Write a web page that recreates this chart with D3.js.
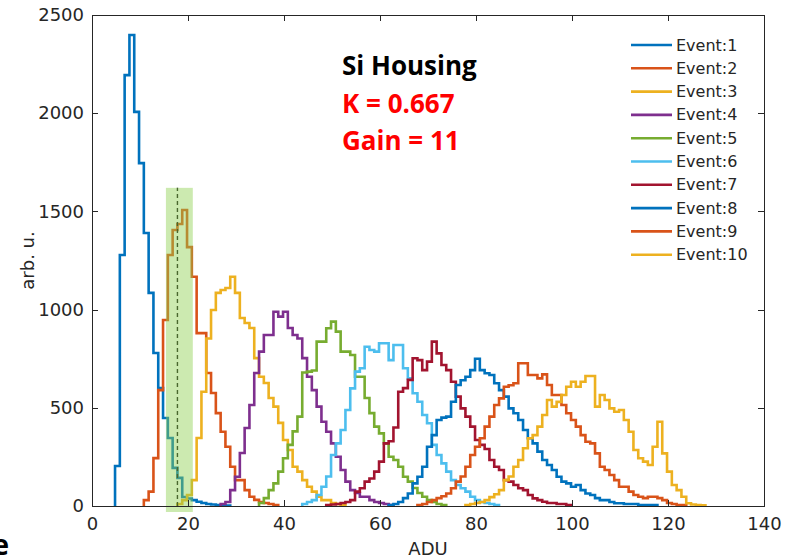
<!DOCTYPE html>
<html>
<head>
<meta charset="utf-8">
<script src="https://cdn.jsdelivr.net/npm/d3@7"></script>
<style>
  html, body { margin: 0; padding: 0; background: #fff; }
  svg { display: block; font-family: "DejaVu Sans", sans-serif; }
</style>
</head>
<body>
<div id="chart"></div>
<script>
// series names + colours (MATLAB default order, repeating after 7)
const events = ['Event:1', 'Event:2', 'Event:3', 'Event:4', 'Event:5',
                'Event:6', 'Event:7', 'Event:8', 'Event:9', 'Event:10'];
const colors = ['#0072BD', '#D95319', '#EDB120', '#7E2F8E', '#77AC30',
                '#4DBEEE', '#A2142F', '#0072BD', '#D95319', '#EDB120'];

// left edge (ADU) of the first bin of each histogram, bin width = 1 ADU
const binStart = [4.8, 10.8, 17.8, 26.8, 34.8, 43.8, 48.8, 61.8, 67.8, 77.8];

// counts per bin
const ev1 = [204, 1278, 2194, 2398, 2007, 1746, 1390, 1085, 779, 600, 448, 346, 194, 143, 46, 38, 30, 22, 15, 10, 8, 5, 3, 2];
const ev2 = [30, 73, 244, 590, 947, 1278, 1405, 1436, 1507, 1318, 1167, 880, 880, 677, 575, 473, 378, 302, 200, 132, 132, 81, 47, 31, 20, 15, 10, 5];
const ev3 = [10, 30, 56, 132, 346, 582, 853, 998, 1085, 1100, 1110, 1167, 1085, 957, 932, 906, 753, 658, 626, 550, 506, 423, 336, 285, 200, 175, 132, 98, 73, 47, 30, 30, 15, 10, 5];
const ev4 = [10, 20, 81, 149, 270, 397, 514, 677, 786, 871, 871, 989, 964, 989, 906, 871, 853, 753, 658, 590, 506, 429, 378, 319, 251, 183, 124, 81, 66, 47, 47, 30, 20, 15, 10, 5];
const ev5 = [15, 40, 81, 115, 175, 243, 311, 380, 455, 680, 684, 690, 837, 837, 905, 939, 888, 786, 786, 769, 658, 658, 550, 473, 404, 370, 319, 251, 234, 200, 149, 124, 92, 66, 47, 30, 20, 10, 5];
const ev6 = [10, 20, 30, 56, 98, 150, 260, 319, 387, 489, 599, 684, 701, 811, 794, 786, 829, 829, 743, 820, 820, 701, 650, 574, 531, 463, 421, 311, 260, 217, 175, 132, 107, 90, 73, 47, 30, 20, 15, 10, 5];
const ev7 = [5, 8, 10, 15, 20, 30, 73, 90, 124, 140, 175, 226, 319, 330, 400, 582, 600, 642, 752, 743, 692, 735, 837, 777, 718, 692, 633, 557, 497, 455, 404, 336, 311, 290, 234, 200, 183, 132, 124, 107, 90, 81, 56, 39, 30, 22, 15, 15, 10, 10, 5];
const ev8 = [5, 10, 20, 40, 64, 115, 149, 200, 302, 361, 438, 450, 455, 531, 616, 640, 658, 692, 750, 692, 676, 667, 625, 590, 557, 497, 472, 438, 387, 345, 319, 277, 234, 209, 183, 149, 124, 115, 98, 107, 81, 64, 56, 40, 30, 30, 20, 14, 14, 10, 10, 10, 5, 5, 5, 5];
const ev9 = [5, 10, 20, 30, 40, 50, 64, 90, 124, 150, 200, 260, 302, 345, 404, 455, 514, 548, 607, 615, 625, 727, 727, 667, 667, 650, 670, 616, 565, 565, 514, 472, 438, 404, 361, 327, 319, 268, 200, 183, 158, 132, 98, 98, 73, 56, 47, 40, 47, 47, 40, 30, 15, 10, 5, 5];
const ev10 = [5, 10, 15, 20, 30, 45, 60, 81, 132, 150, 200, 234, 294, 345, 361, 404, 463, 540, 506, 530, 565, 607, 633, 607, 633, 662, 662, 506, 565, 540, 497, 480, 489, 438, 378, 285, 243, 226, 209, 302, 429, 268, 175, 107, 81, 47, 14, 8, 5, 3];
const counts = [ev1, ev2, ev3, ev4, ev5, ev6, ev7, ev8, ev9, ev10];

// axis ticks
const xTicks = [0, 20, 40, 60, 80, 100, 120, 140];
const yTicks = [0, 500, 1000, 1500, 2000, 2500];

// highlighted window + threshold line
const bandRange = [15.4, 21.0];
const bandTop = 1620;
const threshold = 17.8;

const annotation = [
  { text: 'Si Housing', color: '#000000' },
  { text: 'K = 0.667', color: '#FF0000' },
  { text: 'Gain = 11', color: '#FF0000' }
];

const width = 794, height = 558;
const margin = { top: 15, right: 30, bottom: 52, left: 92 };
const innerW = width - margin.left - margin.right;
const innerH = height - margin.top - margin.bottom;

const svg = d3.select('#chart').append('svg')
  .attr('width', width)
  .attr('height', height);

const g = svg.append('g').attr('transform', `translate(${margin.left},${margin.top})`);

const x = d3.scaleLinear().domain([0, 140]).range([0, innerW]);
const y = d3.scaleLinear().domain([0, 2500]).range([innerH, 0]);

// histograms drawn as stairs outlines
const stairs = d3.line()
  .x(d => x(d[0]))
  .y(d => y(d[1]))
  .curve(d3.curveStepAfter);

const linesG = g.append('g').attr('class', 'hists');
counts.forEach((vals, i) => {
  const s = binStart[i];
  const pts = [[s, 0]];
  vals.forEach((v, k) => pts.push([s + k, v]));
  pts.push([s + vals.length, 0]);
  linesG.append('path')
    .attr('d', stairs(pts))
    .attr('fill', 'none')
    .attr('stroke', colors[i])
    .attr('stroke-width', 2.6)
    .attr('stroke-linejoin', 'miter');
});

// dashed threshold then translucent green window on top
g.append('line')
  .attr('x1', x(threshold)).attr('x2', x(threshold))
  .attr('y1', y(0)).attr('y2', y(bandTop))
  .attr('stroke', '#111')
  .attr('stroke-width', 1.4)
  .attr('stroke-dasharray', '4,3');

g.append('rect')
  .attr('x', x(bandRange[0]))
  .attr('width', x(bandRange[1]) - x(bandRange[0]))
  .attr('y', y(bandTop))
  .attr('height', y(0) - y(bandTop) + 6)
  .attr('fill', '#8fd14f')
  .attr('opacity', 0.45);

// axes, MATLAB style: ticks inside, box on
const axisColor = '#262626';
const styleAxis = sel => {
  sel.selectAll('path, line').attr('stroke', axisColor).attr('shape-rendering', 'crispEdges');
  sel.selectAll('text').attr('fill', axisColor).style('font-size', '18px')
    .style('font-family', '"DejaVu Sans", sans-serif');
};

g.append('g')
  .attr('transform', `translate(0,${innerH})`)
  .call(d3.axisBottom(x).tickValues(xTicks).tickSize(-6).tickSizeOuter(0).tickPadding(11).tickFormat(d3.format('d')))
  .call(styleAxis);
g.append('g')
  .call(d3.axisTop(x).tickValues(xTicks).tickSize(-6).tickSizeOuter(0).tickFormat(''))
  .call(styleAxis);
g.append('g')
  .call(d3.axisLeft(y).tickValues(yTicks).tickSize(-6).tickSizeOuter(0).tickPadding(8).tickFormat(d3.format('d')))
  .call(styleAxis);
g.append('g')
  .attr('transform', `translate(${innerW},0)`)
  .call(d3.axisRight(y).tickValues(yTicks).tickSize(-6).tickSizeOuter(0).tickFormat(''))
  .call(styleAxis);

// axis titles
svg.append('text')
  .attr('x', margin.left + innerW / 2)
  .attr('y', 555)
  .attr('text-anchor', 'middle')
  .attr('fill', axisColor)
  .style('font-size', '18px')
  .text('ADU');

svg.append('text')
  .attr('transform', `translate(27,${margin.top + innerH / 2}) rotate(-90)`)
  .attr('text-anchor', 'middle')
  .attr('dominant-baseline', 'central')
  .attr('fill', axisColor)
  .style('font-size', '18px')
  .text('arb. u.');

// legend (no box)
const legend = svg.append('g').attr('class', 'legend');
events.forEach((name, i) => {
  const ly = 45 + i * 23.3;
  legend.append('line')
    .attr('x1', 631).attr('x2', 672)
    .attr('y1', ly).attr('y2', ly)
    .attr('stroke', colors[i])
    .attr('stroke-width', 2.6);
  legend.append('text')
    .attr('x', 676).attr('y', ly)
    .attr('dominant-baseline', 'central')
    .attr('fill', axisColor)
    .style('font-size', '16px')
    .text(name);
});

// annotation block
annotation.forEach((a, i) => {
  svg.append('text')
    .attr('x', 342)
    .attr('y', 75 + i * 37.5)
    .attr('fill', a.color)
    .style('font-family', '"Open Sans", sans-serif')
    .style('font-weight', 'bold')
    .style('font-size', '26px')
    .text(a.text);
});

// caption letter at bottom-left edge (cut by the frame in the source too)
svg.append('text')
  .attr('x', 9).attr('y', 555)
  .attr('text-anchor', 'end')
  .style('font-family', '"Open Sans", sans-serif')
  .style('font-weight', 'bold')
  .style('font-size', '28px')
  .text('e');
</script>
</body>
</html>
